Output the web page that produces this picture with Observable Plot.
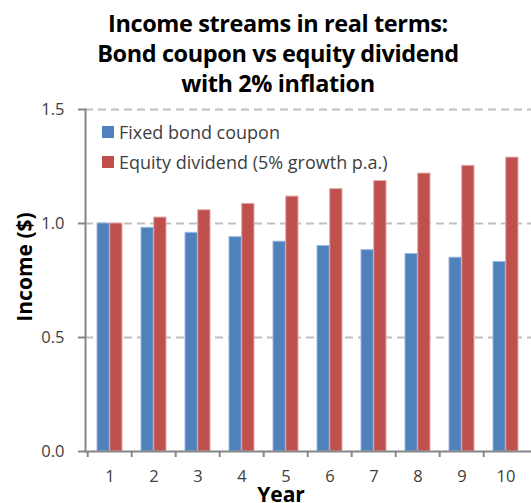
<!DOCTYPE html>
<html><head><meta charset="utf-8">
<script src="https://cdn.jsdelivr.net/npm/d3@7"></script>
<script src="https://cdn.jsdelivr.net/npm/@observablehq/plot@0.6"></script>
<style>
body{margin:0;background:#fff;}
#wrap{position:relative;width:531px;height:503px;overflow:hidden;font-family:"Open Sans",sans-serif;color:#000;}
#title{position:absolute;left:0;width:556px;top:8px;text-align:center;font-weight:bold;font-size:23.5px;line-height:30px;letter-spacing:-0.4px;}
.leg{position:absolute;left:102px;font-size:18px;color:#404040;white-space:nowrap;display:flex;align-items:center;}
.sw{display:inline-block;width:12px;height:12px;margin-right:5px;}
#ylab{position:absolute;left:24px;top:267px;transform:translate(-50%,-50%) rotate(-90deg);font-weight:bold;font-size:21px;white-space:nowrap;}
#xlab{position:absolute;left:281px;top:494px;transform:translate(-50%,-50%);font-weight:bold;font-size:21px;}
svg{position:absolute;left:0;top:0;}
</style></head><body>
<div id="wrap"></div>
<script>
const titleLines = ["Income streams in real terms:", "Bond coupon vs equity dividend", "with 2% inflation"];
const years = [1, 2, 3, 4, 5, 6, 7, 8, 9, 10];
const bondCoupon = [1.00, 0.981, 0.959, 0.940, 0.920, 0.901, 0.883, 0.866, 0.850, 0.831];
const equityDividend = [1.00, 1.026, 1.058, 1.086, 1.118, 1.151, 1.186, 1.219, 1.253, 1.289];
const seriesNames = ["Fixed bond coupon", "Equity dividend (5% growth p.a.)"];
const seriesColors = ["#4F81BD", "#C0504D"];
const yTicks = [0, 0.5, 1.0, 1.5];
const yLabel = "Income ($)";
const xLabel = "Year";

const W = 531, H = 503, mL = 85, mR = 0, mT = 109, mB = 52;
const padIn = 0.43;
const step = (W - mL - mR) / years.length;
const half = step * (1 - padIn) / 2;

const bondRows = years.map((y, i) => ({year: y, value: bondCoupon[i]}));
const eqRows = years.map((y, i) => ({year: y, value: equityDividend[i]}));

const chart = Plot.plot({
  width: W, height: H,
  marginLeft: mL, marginRight: mR, marginTop: mT, marginBottom: mB,
  style: {fontFamily: "'Open Sans', sans-serif", background: "transparent"},
  x: {type: "band", domain: years, paddingInner: padIn, paddingOuter: padIn / 2},
  y: {domain: [0, 1.5]},
  marks: [
    Plot.gridY(yTicks.slice(1), {stroke: "#BFBFBF", strokeOpacity: 1, strokeWidth: 2, strokeDasharray: "8,5"}),
    Plot.barY(bondRows, {x: "year", y: "value", fill: seriesColors[0], stroke: "#9DB6D8", strokeWidth: 1, insetRight: half}),
    Plot.barY(eqRows, {x: "year", y: "value", fill: seriesColors[1], stroke: "#E0A9A8", strokeWidth: 1, insetLeft: half}),
    Plot.axisY(yTicks, {tickFormat: d3.format(".1f"), tickSize: 7, tickPadding: 14, fontSize: 16.5, stroke: "#868686", strokeWidth: 2, fill: "#404040", label: null}),
    Plot.axisX({tickSize: 0, tickPadding: 19, fontSize: 16.5, fill: "#404040", label: null}),
    Plot.axisX({tickSize: 6, tickFormat: () => "", dx: -step / 2, stroke: "#868686", strokeWidth: 2, label: null}),
    Plot.frame({anchor: "left", stroke: "#868686", strokeWidth: 2}),
    Plot.frame({anchor: "bottom", stroke: "#868686", strokeWidth: 2})
  ]
});

const wrap = document.getElementById("wrap");
wrap.appendChild(chart);

const t = document.createElement("div");
t.id = "title";
t.innerHTML = titleLines.map(s => `<div>${s}</div>`).join("");
wrap.appendChild(t);

seriesNames.forEach((name, i) => {
  const d = document.createElement("div");
  d.className = "leg";
  d.style.top = (120 + i * 30) + "px";
  d.innerHTML = `<span class="sw" style="background:${seriesColors[i]}"></span>${name}`;
  wrap.appendChild(d);
});

const yl = document.createElement("div"); yl.id = "ylab"; yl.textContent = yLabel; wrap.appendChild(yl);
const xl = document.createElement("div"); xl.id = "xlab"; xl.textContent = xLabel; wrap.appendChild(xl);
</script>
</body></html>
